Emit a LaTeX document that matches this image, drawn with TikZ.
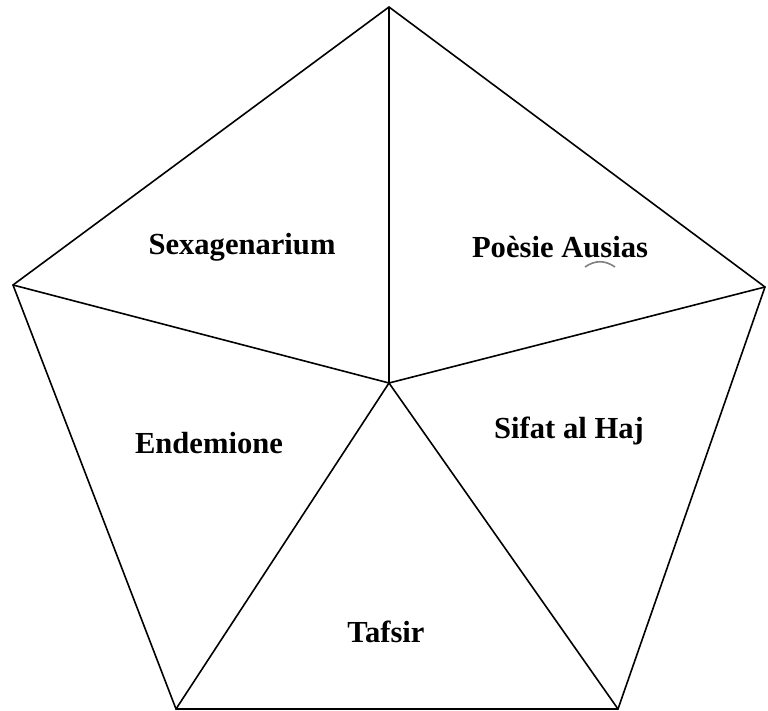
\documentclass[tikz,border=0pt]{standalone}
\usepackage{fontspec}
\setmainfont{Liberation Serif}
\begin{document}
\begin{tikzpicture}[x=0.5pt,y=-0.5pt,
		sector/.style={font=\fontsize{15.3}{18}\selectfont\bfseries}]
		\useasboundingbox (0,0) rectangle (768,711);
		% corners of the pentagon and the inner point
		\coordinate (top) at (389,7);
		\coordinate (left) at (13,285);
		\coordinate (right) at (765,287);
		\coordinate (botleft) at (176,709);
		\coordinate (botright) at (618,709);
		\coordinate (mid) at (389,383);
		
		% outline
		\draw[thick] (top) -- (right) -- (botright) -- (botleft) -- (left) -- cycle;
		% spokes
		\foreach \p in {top,left,right,botleft,botright}
			\draw[thick] (mid) -- (\p);
		
		% labels
		\node[sector] (sexa) at (242,247) {Sexagenarium};
		\node[sector] (poesie) at (560,247) {Poèsie Ausias};
		\node[sector] (endem) at (209,443) {Endemione};
		\node[sector] (sifat) at (569,431) {Sifat al Haj};
		\node[sector] (tafsir) at (386,632) {Tafsir};
		
		% small mark under the text
		\draw[gray, line width=0.8pt] (585,267) .. controls (595,260) and (605,260) .. (615,267);
	\end{tikzpicture}
\end{document}
